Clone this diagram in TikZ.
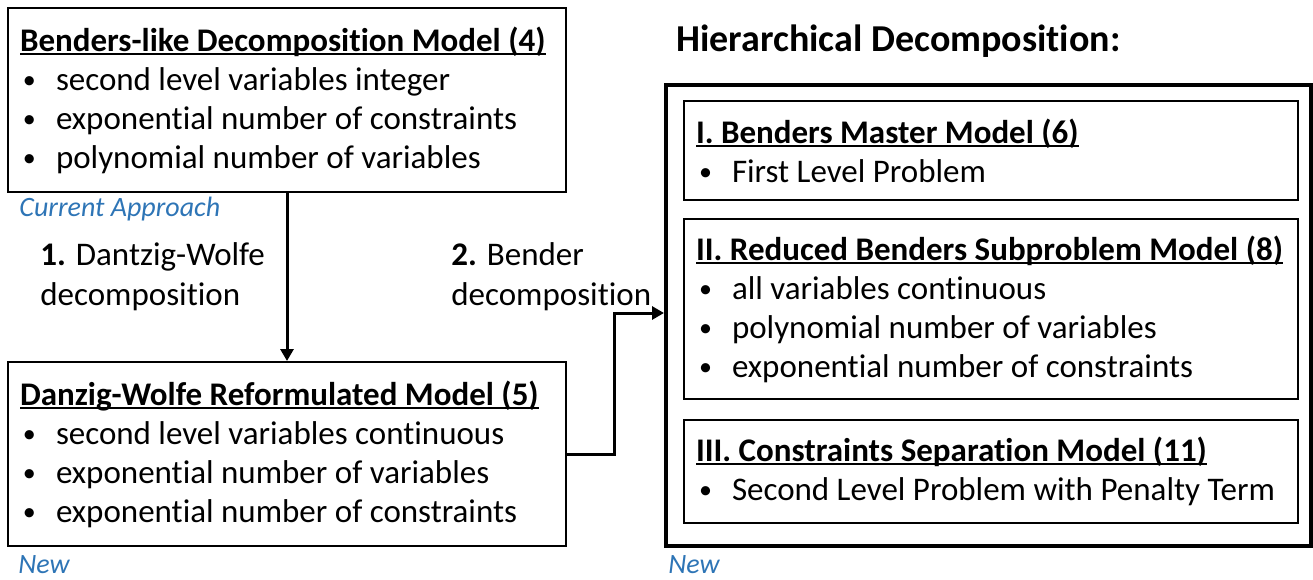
\documentclass[tikz,border=0pt]{standalone}
\usepackage{fontspec}
\setmainfont{Carlito}[Ligatures=NoCommon]
\usetikzlibrary{arrows.meta}

\definecolor{noteblue}{RGB}{46,117,182}

% underlined box titles and bullet lines
\newsavebox\ulinebox
\newcommand{\ulin}[1]{\sbox\ulinebox{#1}\rlap{\rule[-0.11em]{\wd\ulinebox}{0.065em}}\usebox\ulinebox}
\newcommand{\itm}[1]{\makebox[18pt][l]{\hspace{1.5pt}\raisebox{1pt}{\fontsize{13}{13}\selectfont•}}#1}

\begin{document}
\begin{tikzpicture}[
        x=0.5pt, y=-0.5pt,
        box/.style={rectangle, draw, line width=1pt, anchor=north west, inner xsep=6pt, inner ysep=0pt, align=flush left, font=\fontsize{16.5}{19.5}\selectfont},
        bigbox/.style={rectangle, draw, line width=2pt, anchor=north west, inner sep=0pt, minimum width=322.5pt, minimum height=230.5pt},
        note/.style={anchor=base west, inner sep=0pt, font=\fontsize{14}{16}\selectfont\itshape, text=noteblue},
        steplabel/.style={anchor=west, inner sep=0pt, align=flush left, font=\fontsize{16.5}{20}\selectfont},
        arrow/.style={-{Triangle[length=6pt,width=6.5pt]}, line width=1.5pt}
    ]
        \useasboundingbox (0,0) rectangle (1313,579);

        % left column
        \node[box, text width=267pt, minimum height=92pt] (bdm) at (7,7) {\ulin{\bfseries Benders-like Decomposition Model (4)}\\
            \itm{second level variables integer}\\
            \itm{exponential number of constraints}\\
            \itm{polynomial number of variables}};
        \node[note] (cur) at (19,216) {Current Approach};
        \node[box, text width=267pt, minimum height=92pt] (dwm) at (7,361) {\ulin{\bfseries Danzig-Wolfe Reformulated Model (5)}\\
            \itm{second level variables continuous}\\
            \itm{exponential number of variables}\\
            \itm{exponential number of constraints}};
        \node[note] (newl) at (18,573) {New};

        \node[steplabel] (dw) at (40,277) {\textbf{1.} Dantzig-Wolfe\\decomposition};
        \node[steplabel] (bd) at (451,277) {\textbf{2.} Bender\\decomposition};

        % right column
        \node[anchor=base west, inner sep=0pt, font=\fontsize{19}{22}\selectfont\bfseries] (head) at (676,51) {Hierarchical Decomposition:};
        \node[bigbox] (hier) at (664,83) {};
        \node[box, text width=295pt, minimum height=49.5pt] (master) at (683,100) {\ulin{\bfseries I. Benders Master Model (6)}\\
            \itm{First Level Problem}};
        \node[box, text width=295pt, minimum height=90pt] (sub) at (683,218) {\ulin{\bfseries II. Reduced Benders Subproblem Model (8)}\\
            \itm{all variables continuous}\\
            \itm{polynomial number of variables}\\
            \itm{exponential number of constraints}};
        \node[box, text width=295pt, minimum height=51.5pt] (sep) at (683,419) {\ulin{\bfseries III. Constraints Separation Model (11)}\\
            \itm{Second Level Problem with Penalty Term}};
        \node[note] (newr) at (668,573) {New};

        \coordinate (kink) at (614,313);

        \draw[arrow] (bdm) -- (dwm);
        \draw[arrow] (dwm.east) -| (kink) -- (kink -| hier.west);
    \end{tikzpicture}
\end{document}
